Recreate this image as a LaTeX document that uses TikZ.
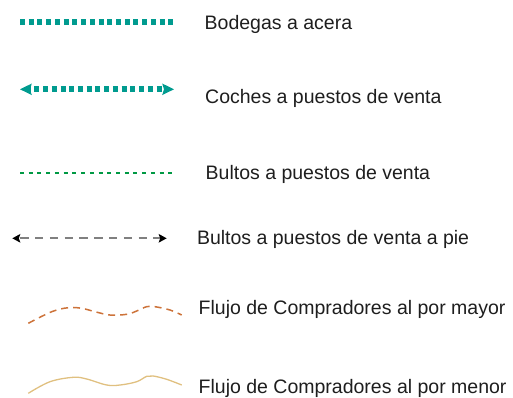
\documentclass[tikz,border=0pt]{standalone}
\usepackage{fontspec}
\setmainfont{Liberation Sans}
\usetikzlibrary{arrows.meta}
\definecolor{tealc}{RGB}{0,155,143}
\definecolor{greenc}{RGB}{0,153,68}
\definecolor{grayc}{RGB}{128,128,128}
\definecolor{orangec}{RGB}{205,115,58}
\definecolor{tanc}{RGB}{224,192,128}
\definecolor{textc}{RGB}{30,30,30}
\tikzset{
  lbl/.style={anchor=base west, inner sep=0pt, text=textc, font=\fontsize{19.5}{23}\selectfont},
  tealdots/.style={draw=tealc, line width=6pt, dash pattern=on 5pt off 3.73pt},
  tealarrows/.style={tealdots, dash phase=3.73pt,
     {Stealth[length=11.5pt,width=11pt,inset=1.5pt,fill=tealc]}-{Stealth[length=11.5pt,width=11pt,inset=1.5pt,fill=tealc]}},
  greendash/.style={draw=greenc, line width=2.2pt, dash pattern=on 4pt off 4.73pt},
  graydash/.style={draw=grayc, line width=1.8pt, dash pattern=on 8.3pt off 6.5pt, dash phase=12.9pt,
     {Stealth[length=8pt,width=8.5pt,inset=1.5pt,black]}-{Stealth[length=8pt,width=8.5pt,inset=1.5pt,black]}},
  wholesale/.style={draw=orangec, line width=1.5pt, dash pattern=on 7pt off 5pt},
  retail/.style={draw=tanc, line width=1.3pt},
}
\begin{document}
\begin{tikzpicture}[x=1pt,y=-1pt]
\useasboundingbox (0,0) rectangle (513,397);
% line samples
\coordinate (a1) at (20,21.7);   \coordinate (b1) at (172.7,21.7);
\coordinate (a2) at (20,89.3);   \coordinate (b2) at (174,89.3);
\coordinate (a3) at (20,173);    \coordinate (b3) at (172.7,173);
\coordinate (a4) at (12.3,238.3);\coordinate (b4) at (166.7,238.3);
\draw[tealdots] (a1) -- (b1);
\draw[tealarrows] (a2) -- (b2);
\draw[greendash] (a3) -- (b3);
\draw[graydash] (a4) -- (b4);
\draw[wholesale] plot[smooth, tension=0.6] coordinates {(28.3,323.3) (51.7,311.7) (68.3,307.7) (81.7,308.3) (95,311.7) (110,315) (126.7,314.3) (136.7,311) (146.7,306.7) (155,306.7) (170,310) (181.7,315)};
\draw[retail] plot[smooth, tension=0.6] coordinates {(28.3,393.3) (50,381.7) (73.3,377.3) (86.7,379) (106.7,385) (120,385) (136.7,381.7) (146.7,376.3) (153.3,376) (166.7,379.3) (181.7,385)};
% labels
\node[lbl] (t1) at (204.5,29) {Bodegas a acera};
\node[lbl] (t2) at (205,103) {Coches a puestos de venta};
\node[lbl] (t3) at (205.5,179) {Bultos a puestos de venta};
\node[lbl] (t4) at (196.8,244) {Bultos a puestos de venta a pie};
\node[lbl] (t5) at (198.5,314) {Flujo de Compradores al por mayor};
\node[lbl] (t6) at (198.5,393) {Flujo de Compradores al por menor};
\end{tikzpicture}
\end{document}
